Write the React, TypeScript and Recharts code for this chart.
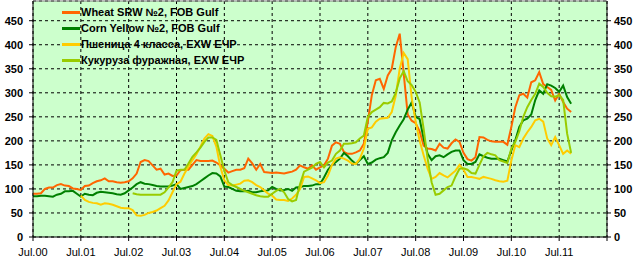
import {
  CartesianGrid,
  Line,
  LineChart,
  ReferenceLine,
  XAxis,
  YAxis,
} from "recharts";

// --- Data (monthly, Jul.2000 = index 0) ---

const tickLabels = [
  "Jul.00", "Jul.01", "Jul.02", "Jul.03", "Jul.04", "Jul.05",
  "Jul.06", "Jul.07", "Jul.08", "Jul.09", "Jul.10", "Jul.11", "",
];

const yTicks = [0, 50, 100, 150, 200, 250, 300, 350, 400, 450];

const wheatSrw = [
  90, 90, 91, 100, 103, 103, 108, 110, 107, 106, 101, 100,
  98, 106, 107, 112, 116, 118, 122, 116, 116, 114, 113, 114,
  116, 122, 132, 156, 160, 158, 149, 140, 142, 130, 132, 127,
  128, 139, 140, 140, 150, 160, 158, 158, 158, 159, 155, 149,
  142, 134, 137, 140, 140, 143, 163, 153, 140, 152, 135, 134,
  133, 134, 133, 132, 134, 136, 140, 149, 145, 142, 149, 140,
  145, 149, 163, 190, 197, 194, 177, 173, 173, 176, 180, 194,
  240, 295, 326, 329, 308, 336, 350, 395, 423, 340, 255, 242,
  237, 220, 190, 184, 183, 180, 194, 186, 184, 195, 203, 198,
  175, 162, 159, 166, 208, 207, 202, 199, 198, 198, 198, 192,
  229, 270, 295, 298, 290, 322, 326, 343, 318, 312, 306, 284,
  298, 281, 267, 260,
];

const cornYellow = [
  85, 85, 86, 86, 85, 84, 88, 90, 95, 95, 96, 90,
  84, 90, 88, 87, 92, 94, 93, 92, 91, 89, 88, 91,
  97, 103, 110, 114, 111, 110, 108, 106, 105, 105, 105, 107,
  110, 100, 102, 104, 106, 110, 116, 122, 128, 133, 132, 126,
  105, 104, 100, 96, 95, 95, 96, 93, 93, 95, 96, 97,
  104, 100, 97, 98, 100, 96, 103, 104, 106, 106, 107, 110,
  110, 124, 140, 150, 156, 163, 175, 168, 159, 152, 160, 168,
  152, 155, 161, 164, 166, 175, 201, 218, 232, 245, 265, 280,
  250, 245, 205, 173, 160, 168, 170, 166, 172, 177, 180, 180,
  160, 152, 152, 156, 172, 168, 165, 163, 163, 163, 160, 157,
  180, 201, 229, 243, 246, 255, 285, 305, 298, 318, 315, 310,
  302, 315, 291, 277,
];

const wheatEchr = [
  null, null, null, null, null, null, null, null, null, null, null, null,
  86, 77, 73, 71, 70, 67, 70, 69, 67, 64, 61, 60,
  60, 56, 45, 44, 46, 50, 52, 55, 60, 65, 76, 93,
  110, 115, 132, 146, 160, 172, 188, 205, 214, 210, 188, 146,
  118, 108, 107, 109, 111, 117, 118, 114, 108, 104, 97, 90,
  86, 78, 77, 77, 75, 80, 88, 100, 125, 126, 122, 118,
  112, 114, 128, 150, 163, 166, 163, 159, 153, 152, 163, 184,
  225, 228, 240, 246, 247, 248, 260, 294, 350, 383, 370, 290,
  240, 200, 170, 142, 121, 125, 133, 128, 124, 131, 138, 150,
  140, 125, 125, 123, 121, 125, 123, 121, 118, 116, 115, 117,
  159, 191, 187, 205, 218, 229, 243, 246, 240, 205, 191, 208,
  191, 173, 180, 173,
];

const cornEchr = [
  null, null, null, null, null, null, null, null, null, null, null, null,
  null, null, null, null, null, null, null, null, null, null, null, null,
  null, 91, 89, 88, 88, 88, 88, 88, 88, 93, 103, 114,
  138, 140, 140, 153, 167, 176, 186, 198, 207, 207, 202, 170,
  138, 114, 108, 104, 100, 96, 93, 90, 87, 85, 84, 84,
  90, 96, 100, 93, 79, 74, 77, 110, 136, 140, 144, 152,
  156, 145, 155, 159, 173, 180, 194, 194, 195, 197, 205, 211,
  250, 260, 265, 270, 279, 278, 282, 300, 330, 345, 324, 316,
  302, 280, 225, 163, 114, 88, 90, 97, 104, 107, 126, 142,
  143, 140, 133, 132, 150, 168, 175, 172, 170, 160, 157, 154,
  184, 198, 220, 250, 270, 285, 298, 319, 312, 300, 293, 292,
  295, 285, 215, 175,
];

const series = [
  { key: "wheatSrw", name: "Wheat SRW №2, FOB Gulf", color: "#FF6600" },
  { key: "cornYellow", name: "Corn Yellow №2, FOB Gulf", color: "#008000" },
  { key: "wheatEchr", name: "Пшеница 4 класса, EXW ЕЧР", color: "#FFCC00" },
  { key: "cornEchr", name: "Кукуруза фуражная, EXW ЕЧР", color: "#99CC00" },
];

const data = wheatSrw.map((v, i) => ({
  m: i,
  wheatSrw: v,
  cornYellow: cornYellow[i],
  wheatEchr: wheatEchr[i],
  cornEchr: cornEchr[i],
}));

const FONT = "'Liberation Sans', Arial, sans-serif";
const Y_MAX = 491;

// legend sits inside the plot area, top-left
const LegendBox = () => (
  <div
    style={{
      position: "absolute",
      left: 62,
      top: 4,
      fontFamily: FONT,
      fontSize: 11,
      fontWeight: "bold",
      color: "#000",
      lineHeight: "16px",
      pointerEvents: "none",
    }}
  >
    {series.map((s) => (
      <div key={s.key} style={{ display: "flex", alignItems: "center", height: 16 }}>
        <span
          style={{
            display: "inline-block",
            width: 18,
            height: 3,
            background: s.color,
            marginRight: 1,
          }}
        />
        <span style={{ whiteSpace: "nowrap" }}>{s.name}</span>
      </div>
    ))}
  </div>
);

export default function App() {
  const axisTick = { fill: "#000", fontSize: 11, fontFamily: FONT, fontWeight: "bold" };
  return (
    <div style={{ position: "absolute", left: 0, top: 0, width: 637, height: 262, fontFamily: FONT }}>
      <LineChart
        width={637}
        height={262}
        data={data}
        margin={{ top: 1, right: 0, bottom: 0, left: 0 }}
      >
        <CartesianGrid
          yAxisId="left"
          stroke="#000"
          strokeDasharray="3 3"
          fill="#CCFFCC"
          fillOpacity={1}
        />
        <XAxis
          dataKey="m"
          type="number"
          domain={[0, 144]}
          ticks={tickLabels.map((_, i) => i * 12)}
          tickFormatter={(v) => tickLabels[Math.round(v / 12)]}
          interval={0}
          height={25}
          tick={{ fill: "#000", fontSize: 11, fontFamily: FONT }}
          tickSize={4}
          tickMargin={7}
          axisLine={{ stroke: "#000" }}
          tickLine={{ stroke: "#000" }}
        />
        <YAxis
          yAxisId="left"
          width={33}
          domain={[0, Y_MAX]}
          ticks={yTicks}
          interval={0}
          tick={axisTick}
          tickSize={4}
          tickMargin={6}
          axisLine={{ stroke: "#000" }}
          tickLine={{ stroke: "#000" }}
        />
        <YAxis
          yAxisId="right"
          orientation="right"
          width={30}
          domain={[0, Y_MAX]}
          allowDataOverflow
          ticks={yTicks}
          interval={0}
          tick={axisTick}
          tickSize={4}
          tickMargin={3}
          axisLine={{ stroke: "#000" }}
          tickLine={{ stroke: "#000" }}
        />
        <ReferenceLine yAxisId="left" y={Y_MAX} stroke="#808080" />
        {/* invisible copy so the right-hand axis has a series bound to it */}
        <Line
          yAxisId="right"
          dataKey="wheatSrw"
          stroke="none"
          dot={false}
          activeDot={false}
          legendType="none"
          isAnimationActive={false}
        />
        {series.map((s) => (
          <Line
            key={s.key}
            yAxisId="left"
            type="linear"
            dataKey={s.key}
            name={s.name}
            stroke={s.color}
            strokeWidth={2}
            dot={false}
            activeDot={false}
            isAnimationActive={false}
          />
        ))}
      </LineChart>
      <LegendBox />
    </div>
  );
}
